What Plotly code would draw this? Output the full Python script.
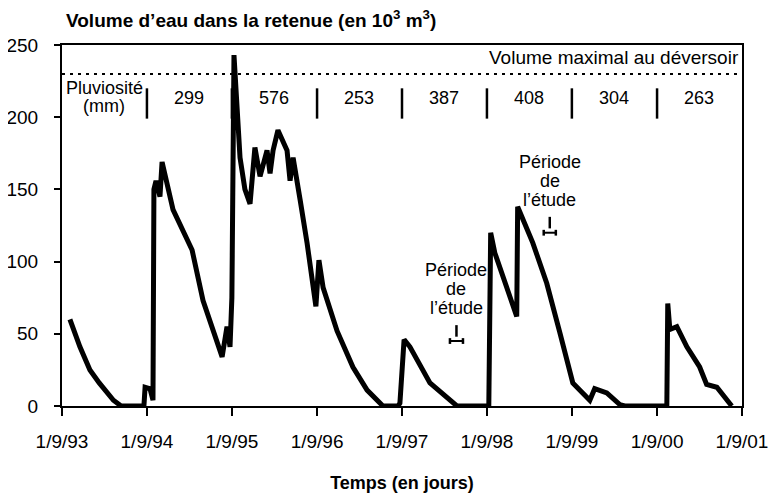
import pandas as pd
import plotly.graph_objects as go

# reservoir volume (10^3 m3)
dates = [
    '1993-10-05', '1993-11-17', '1993-12-30', '1994-02-08', '1994-04-10',
    '1994-05-13', '1994-08-19', '1994-08-24', '1994-09-14', '1994-09-27',
    '1994-10-01', '1994-10-10', '1994-10-27', '1994-11-05', '1994-12-22',
    '1995-03-14', '1995-04-30', '1995-07-21', '1995-08-11', '1995-08-24',
    '1995-09-01', '1995-09-10', '1995-10-06', '1995-10-27', '1995-11-18',
    '1995-12-09', '1995-12-31', '1996-01-30', '1996-02-12', '1996-02-25',
    '1996-03-17', '1996-04-25', '1996-05-08', '1996-05-21', '1996-06-20',
    '1996-07-20', '1996-08-27', '1996-09-09', '1996-09-27', '1996-11-26',
    '1997-02-02', '1997-04-04', '1997-06-11', '1997-08-15', '1997-08-23',
    '1997-09-10', '1997-10-05', '1997-12-30', '1998-04-25', '1998-09-09',
    '1998-09-17', '1998-10-05', '1999-01-07', '1999-01-11', '1999-03-17',
    '1999-05-16', '1999-07-11', '1999-09-05', '1999-11-17', '1999-12-08',
    '2000-01-29', '2000-03-25', '2000-04-15', '2000-10-13', '2000-10-17',
    '2000-10-26', '2000-11-25', '2001-01-07', '2001-03-03', '2001-04-02',
    '2001-05-16', '2001-07-19',
]
volume = [
    60, 41, 25, 16, 4,
    0, 0, 13, 12, 4,
    150, 156, 145, 169, 136,
    108, 73, 34, 55, 41,
    75, 243, 172, 150, 140,
    179, 159, 177, 161, 177,
    191, 177, 156, 172, 143,
    113, 69, 101, 82, 52,
    27, 11, 0, 0, 2,
    46, 41, 16, 0, 0,
    120, 106, 62, 138, 113,
    85, 51, 16, 4, 12,
    9, 1, 0, 0, 71,
    53, 55, 41, 27, 15,
    13, 0,
]

year_starts = ['1993-09-01', '1994-09-01', '1995-09-01', '1996-09-01', '1997-09-01',
               '1998-09-01', '1999-09-01', '2000-09-01', '2001-09-01']
year_labels = ['1/9/93', '1/9/94', '1/9/95', '1/9/96', '1/9/97',
               '1/9/98', '1/9/99', '1/9/00', '1/9/01']
rain_mid = ['1995-03-01', '1996-03-01', '1997-03-01', '1998-03-01',
            '1999-03-01', '2000-03-01', '2001-03-01']
rain_mm = ['299', '576', '253', '387', '408', '304', '263']

max_volume = 230
study_start = ['1998-03-26', '1999-05-03']
study_end = ['1998-05-21', '1999-06-24']
study_level = [45, 120]

FONT = 'Liberation Sans, Arial, Helvetica, sans-serif'
TXT = dict(size=18, family=FONT, color='black')

fig = go.Figure()
fig.add_trace(go.Scatter(x=dates, y=volume, mode='lines',
                         line=dict(color='black', width=5), showlegend=False))

# study period markers (small bar with end caps)
s0 = pd.to_datetime(study_start)
s1 = pd.to_datetime(study_end)
for a, b, lv in zip(s0, s1, study_level):
    mid = a + (b - a) / 2
    fig.add_trace(go.Scatter(x=[a, b], y=[lv, lv], mode='lines',
                             line=dict(color='black', width=2), showlegend=False))
    fig.add_trace(go.Scatter(x=[mid, mid], y=[lv + 3, lv + 11], mode='lines',
                             line=dict(color='black', width=2.5), showlegend=False))
    for e in (a, b):
        fig.add_trace(go.Scatter(x=[e, e], y=[lv - 2, lv + 2], mode='lines',
                                 line=dict(color='black', width=2.5), showlegend=False))
    for txt, dy in (("l\u2019étude", 33), ("de", 52), ("Période", 71)):
        fig.add_annotation(x=mid, y=lv, yshift=dy, text=txt, showarrow=False,
                           yanchor='middle', xanchor='center', font=TXT)

# maximum level
fig.add_shape(type='line', xref='paper', x0=0, x1=1, y0=max_volume, y1=max_volume,
              line=dict(color='black', width=2, dash='3px,5px'))
fig.add_annotation(xref='paper', x=1, y=max_volume, yshift=16, text='Volume maximal au déversoir',
                   showarrow=False, xanchor='right', yanchor='middle', xshift=-1,
                   font=dict(size=19, family=FONT, color='black'))

# rainfall per hydrological year
for d in year_starts[1:-1]:
    fig.add_shape(type='line', x0=d, x1=d, y0=199, y1=220,
                  line=dict(color='black', width=2.5))
for d, t in zip(rain_mid, rain_mm):
    fig.add_annotation(x=d, y=213, text=t, showarrow=False, font=TXT)
fig.add_annotation(x='1994-03-01', y=213, yshift=10, text='Pluviosité', showarrow=False, font=TXT)
fig.add_annotation(x='1994-03-01', y=213, yshift=-8, text='(mm)', showarrow=False, font=TXT)

fig.add_annotation(xref='paper', yref='paper', x=0, y=1, xshift=2, yshift=12,
                   xanchor='left', yanchor='bottom', showarrow=False,
                   text='<b>Volume d\u2019eau dans la retenue (en 10<sup>3</sup> m<sup>3</sup>)</b>',
                   font=dict(size=19, family=FONT, color='black'))

fig.update_layout(
    width=771, height=488,
    margin=dict(l=54, r=37, t=37, b=90),
    plot_bgcolor='white', paper_bgcolor='white',
    font=dict(family=FONT, size=18, color='black'),
)
fig.update_xaxes(
    type='date', range=[year_starts[0], year_starts[-1]],
    tickmode='array', tickvals=year_starts, ticktext=year_labels,
    ticks='outside', ticklen=8, tickwidth=2, tickcolor='black',
    ticklabelstandoff=9, tickfont=dict(size=19),
    showgrid=False, zeroline=False, automargin=False,
    showline=True, linecolor='black', linewidth=2, mirror=True,
    title=dict(text='<b>Temps (en jours)</b>', standoff=26,
               font=dict(size=18, family=FONT)),
)
fig.update_yaxes(
    range=[0, 250], tickvals=[0, 50, 100, 150, 200, 250],
    ticks='outside', ticklen=6, tickwidth=2, tickcolor='black',
    ticklabelstandoff=12, tickfont=dict(size=19),
    showgrid=False, zeroline=False, automargin=False,
    showline=True, linecolor='black', linewidth=2, mirror=True,
)

fig.write_html("out.html")
